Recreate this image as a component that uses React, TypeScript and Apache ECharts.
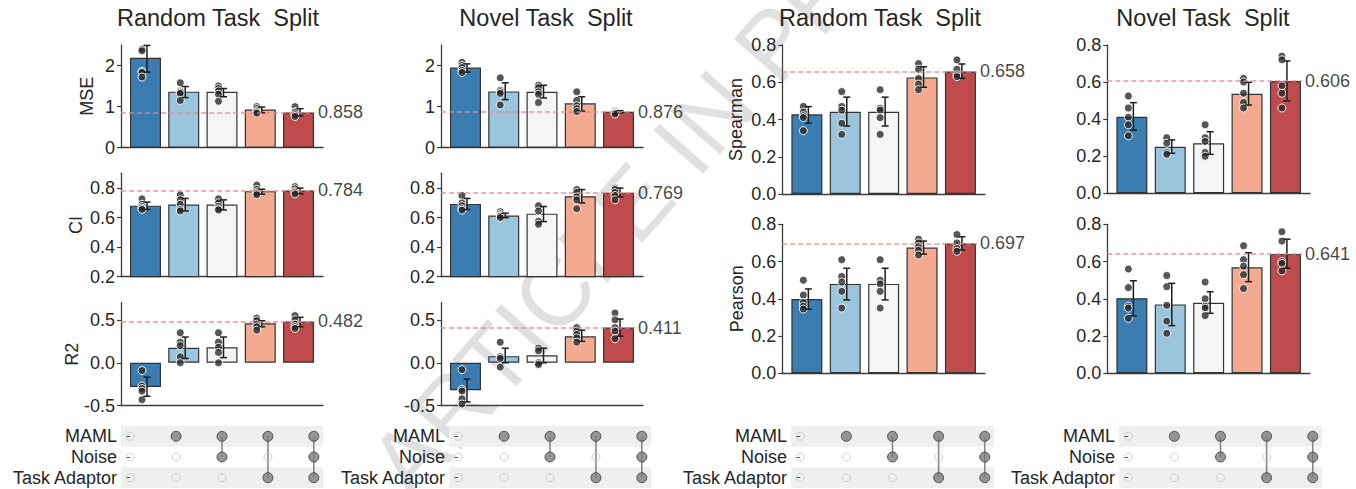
import React, { useEffect, useRef } from "react";
import * as echarts from "echarts";

// ---------- data ----------
const methods = ["Base", "MAML", "MAML+Noise", "MAML+TaskAdaptor", "MAML+Noise+TaskAdaptor"];
const barColors = ["#3b7db1", "#9bc5dc", "#f5f5f5", "#f3aa91", "#bf4b4c"];
const upsetRows = ["MAML", "Noise", "Task Adaptor"];
const useMAML = [0, 1, 1, 1, 1];
const useNoise = [0, 0, 1, 0, 1];
const useAdaptor = [0, 0, 0, 1, 1];
const panelTitles = ["Random Task  Split", "Novel Task  Split", "Random Task  Split", "Novel Task  Split"];

// Random task split - MSE
const mseRandom = [2.19, 1.365, 1.36, 0.93, 0.858];
const mseRandomLo = [1.84, 1.22, 1.24, 0.85, 0.77];
const mseRandomHi = [2.49, 1.49, 1.44, 0.99, 0.95];
const mseRandomDots = [[2.4, 2.36, 1.86, 1.83, 1.72], [1.58, 1.38, 1.35, 1.32, 1.15], [1.5, 1.44, 1.38, 1.3, 1.13], [1.0, 0.95, 0.9, 0.87, 0.84], [1.0, 0.88, 0.85, 0.8, 0.76]];
// Random task split - CI
const ciRandom = [0.681, 0.688, 0.688, 0.779, 0.784];
const ciRandomLo = [0.655, 0.645, 0.652, 0.759, 0.761];
const ciRandomHi = [0.705, 0.73, 0.72, 0.792, 0.8];
const ciRandomDots = [[0.727, 0.69, 0.675, 0.664, 0.655], [0.754, 0.72, 0.69, 0.655, 0.645], [0.727, 0.7, 0.675, 0.66, 0.652], [0.82, 0.79, 0.775, 0.765, 0.755], [0.81, 0.795, 0.78, 0.77, 0.76]];
// Random task split - R2
const r2Random = [-0.282, 0.174, 0.18, 0.46, 0.482];
const r2RandomLo = [-0.39, 0.05, 0.06, 0.42, 0.42];
const r2RandomHi = [-0.167, 0.3, 0.3, 0.49, 0.53];
const r2RandomDots = [[-0.09, -0.27, -0.3, -0.33, -0.43], [0.35, 0.24, 0.2, 0.07, 0.0], [0.35, 0.24, 0.18, 0.12, 0.0], [0.52, 0.49, 0.45, 0.42, 0.38], [0.55, 0.5, 0.45, 0.42, 0.4]];
// Novel task split - MSE
const mseNovel = [1.95, 1.37, 1.36, 1.08, 0.876];
const mseNovelLo = [1.84, 1.17, 1.21, 0.89, 0.85];
const mseNovelHi = [2.04, 1.58, 1.52, 1.24, 0.9];
const mseNovelDots = [[2.08, 2.0, 1.95, 1.88, 1.83], [1.7, 1.4, 1.36, 1.32, 1.04], [1.52, 1.46, 1.36, 1.3, 1.1], [1.36, 1.15, 1.02, 0.95, 0.88], [0.9, 0.88, 0.86, 0.84, 0.82]];
// Novel task split - CI
const ciNovel = [0.693, 0.614, 0.627, 0.745, 0.769];
const ciNovelLo = [0.655, 0.6, 0.573, 0.7, 0.74];
const ciNovelHi = [0.73, 0.63, 0.675, 0.79, 0.8];
const ciNovelDots = [[0.75, 0.7, 0.68, 0.66, 0.65], [0.64, 0.625, 0.615, 0.61, 0.6], [0.68, 0.645, 0.575, 0.555], [0.79, 0.77, 0.74, 0.72, 0.66], [0.8, 0.79, 0.77, 0.75, 0.72]];
// Novel task split - R2
const r2Novel = [-0.32, 0.077, 0.087, 0.31, 0.411];
const r2NovelLo = [-0.456, 0.0, 0.0, 0.25, 0.31];
const r2NovelHi = [-0.19, 0.17, 0.17, 0.38, 0.51];
const r2NovelDots = [[-0.08, -0.31, -0.33, -0.42, -0.48], [0.24, 0.07, 0.05, -0.05], [0.17, 0.14, 0.0, -0.02], [0.41, 0.37, 0.33, 0.29, 0.24], [0.58, 0.5, 0.41, 0.37, 0.28]];
// Random task split - Spearman
const spRandom = [0.428, 0.442, 0.442, 0.626, 0.658];
const spRandomLo = [0.38, 0.365, 0.365, 0.573, 0.621];
const spRandomHi = [0.469, 0.52, 0.52, 0.683, 0.698];
const spRandomDots = [[0.47, 0.44, 0.42, 0.41, 0.34], [0.55, 0.47, 0.45, 0.38, 0.32], [0.56, 0.46, 0.45, 0.41, 0.32], [0.7, 0.67, 0.62, 0.59, 0.56], [0.72, 0.67, 0.64, 0.63]];
// Random task split - Pearson
const peRandom = [0.399, 0.48, 0.48, 0.675, 0.697];
const peRandomLo = [0.344, 0.394, 0.394, 0.64, 0.662];
const peRandomHi = [0.453, 0.564, 0.564, 0.71, 0.733];
const peRandomDots = [[0.5, 0.42, 0.38, 0.36, 0.345], [0.61, 0.52, 0.49, 0.44, 0.35], [0.61, 0.5, 0.48, 0.44, 0.35], [0.72, 0.7, 0.68, 0.66, 0.635], [0.745, 0.7, 0.67, 0.655]];
// Novel task split - Spearman
const spNovel = [0.413, 0.251, 0.27, 0.537, 0.606];
const spNovelLo = [0.341, 0.216, 0.21, 0.476, 0.498];
const spNovelHi = [0.489, 0.288, 0.332, 0.599, 0.714];
const spNovelDots = [[0.525, 0.46, 0.41, 0.37, 0.31], [0.3, 0.27, 0.22, 0.21], [0.37, 0.3, 0.28, 0.22, 0.2], [0.62, 0.6, 0.54, 0.49, 0.46], [0.74, 0.72, 0.58, 0.54, 0.46]];
// Novel task split - Pearson
const peNovel = [0.403, 0.37, 0.379, 0.569, 0.641];
const peNovelLo = [0.308, 0.256, 0.322, 0.492, 0.564];
const peNovelHi = [0.497, 0.483, 0.438, 0.647, 0.72];
const peNovelDots = [[0.56, 0.46, 0.36, 0.35, 0.295], [0.525, 0.465, 0.365, 0.28, 0.215], [0.49, 0.4, 0.36, 0.35, 0.31], [0.685, 0.61, 0.575, 0.53, 0.455], [0.76, 0.71, 0.6, 0.59, 0.55]];

// reference labels (best model)
const refLabels = ["0.858", "0.784", "0.482", "0.876", "0.769", "0.411", "0.658", "0.697", "0.606", "0.641"];

// tick values
const mseTicks = [0, 1, 2];
const ciTicks = [0.2, 0.4, 0.6, 0.8];
const r2Ticks = [-0.5, 0, 0.5];
const corrTicks = [0, 0.2, 0.4, 0.6, 0.8];

// ---------- style / layout ----------
const FONT = '"Liberation Sans", Arial, Helvetica, sans-serif';
const TXT = "#262626";
const AX = "#3c3c3c";

const panels = [
  { v: mseRandom, lo: mseRandomLo, hi: mseRandomHi, dots: mseRandomDots, left: 121, top: 45, w: 202, h: 102.7, min: 0, max: 2.5, ticks: mseTicks, dec: 0, name: "MSE", nameX: 87 },
  { v: ciRandom, lo: ciRandomLo, hi: ciRandomHi, dots: ciRandomDots, left: 121, top: 173.3, w: 202, h: 103.4, min: 0.2, max: 0.9, ticks: ciTicks, dec: 1, name: "CI", nameX: 76 },
  { v: r2Random, lo: r2RandomLo, hi: r2RandomHi, dots: r2RandomDots, left: 121, top: 302.7, w: 202, h: 103, min: -0.5, max: 0.7, ticks: r2Ticks, dec: 1, name: "R2", nameX: 72 },
  { v: mseNovel, lo: mseNovelLo, hi: mseNovelHi, dots: mseNovelDots, left: 441, top: 45, w: 202, h: 102.7, min: 0, max: 2.5, ticks: mseTicks, dec: 0, name: "", nameX: 0 },
  { v: ciNovel, lo: ciNovelLo, hi: ciNovelHi, dots: ciNovelDots, left: 441, top: 173.3, w: 202, h: 103.4, min: 0.2, max: 0.9, ticks: ciTicks, dec: 1, name: "", nameX: 0 },
  { v: r2Novel, lo: r2NovelLo, hi: r2NovelHi, dots: r2NovelDots, left: 441, top: 302.7, w: 202, h: 103, min: -0.5, max: 0.7, ticks: r2Ticks, dec: 1, name: "", nameX: 0 },
  { v: spRandom, lo: spRandomLo, hi: spRandomHi, dots: spRandomDots, left: 782.3, top: 45, w: 202.7, h: 149, min: 0, max: 0.8, ticks: corrTicks, dec: 1, name: "Spearman", nameX: 736 },
  { v: peRandom, lo: peRandomLo, hi: peRandomHi, dots: peRandomDots, left: 782.3, top: 224.3, w: 202.7, h: 149, min: 0, max: 0.8, ticks: corrTicks, dec: 1, name: "Pearson", nameX: 737 },
  { v: spNovel, lo: spNovelLo, hi: spNovelHi, dots: spNovelDots, left: 1107.3, top: 45, w: 202.7, h: 148.3, min: 0, max: 0.8, ticks: corrTicks, dec: 1, name: "", nameX: 0 },
  { v: peNovel, lo: peNovelLo, hi: peNovelHi, dots: peNovelDots, left: 1107.3, top: 224.3, w: 202.7, h: 149, min: 0, max: 0.8, ticks: corrTicks, dec: 1, name: "", nameX: 0 },
];

const upsetLayouts = [
  { left: 121, top: 426, w: 202, h: 62 },
  { left: 449, top: 426, w: 202, h: 62 },
  { left: 791, top: 426, w: 203, h: 62 },
  { left: 1119, top: 426, w: 203, h: 62 },
];

const titleCenters = [218, 546, 880, 1203];

function buildOption() {
  const grid: any[] = [];
  const xAxis: any[] = [];
  const yAxis: any[] = [];
  const series: any[] = [];
  const graphic: any[] = [];

  panels.forEach((P, k) => {
    grid.push({ left: P.left, top: P.top, width: P.w, height: P.h });
    xAxis.push({
      gridIndex: k, type: "value", min: -0.64, max: 4.64,
      axisLine: { show: true, onZero: false, lineStyle: { color: AX, width: 1.3 } },
      axisTick: { show: false }, axisLabel: { show: false }, splitLine: { show: false },
    });
    yAxis.push({
      gridIndex: k, type: "value", min: P.min, max: P.max,
      axisLine: { show: true, onZero: false, lineStyle: { color: AX, width: 1.3 } },
      axisTick: { show: true, length: 4, lineStyle: { color: AX, width: 1.2 }, customValues: P.ticks },
      axisLabel: {
        customValues: P.ticks, formatter: (val: number) => Number(val).toFixed(P.dec),
        fontSize: 18, color: TXT, margin: 6, fontFamily: FONT,
      },
      splitLine: { show: false },
    });
    const last = P.v[P.v.length - 1];
    series.push({
      type: "bar", xAxisIndex: k, yAxisIndex: k, barWidth: 31, z: 2,
      data: P.v.map((val, i) => ({
        value: [i, val],
        itemStyle: { color: barColors[i], borderColor: "#333", borderWidth: 1.2 },
      })),
      markLine: {
        silent: true, symbol: ["none", "none"], z: 6,
        lineStyle: { color: "#f08585", type: [5, 3], width: 1.5, opacity: 0.85 },
        label: { show: true, position: "end", formatter: refLabels[k], fontSize: 18, color: TXT, fontFamily: FONT, distance: 3 },
        emphasis: { disabled: true },
        data: [[{ coord: [-0.64, last] }, { coord: [4.43, last] }]],
      },
    });
    const dotData: number[][] = [];
    P.dots.forEach((arr, i) => arr.forEach((d) => dotData.push([i, d])));
    series.push({
      type: "scatter", xAxisIndex: k, yAxisIndex: k, z: 3,
      symbolSize: 8, symbolOffset: [-3.5, 0],
      itemStyle: { color: "rgba(40,40,40,0.78)", borderColor: "#ffffff", borderWidth: 0.9, opacity: 1 },
      data: dotData,
    });
    series.push({
      type: "custom", xAxisIndex: k, yAxisIndex: k, z: 4,
      encode: { x: 0, y: [1, 2] },
      renderItem: (params: any, api: any) => {
        const x = api.value(0);
        const p1 = api.coord([x, api.value(1)]);
        const p2 = api.coord([x, api.value(2)]);
        const cx = p1[0] + 1.5;
        const st = { stroke: "#1e1e1e", lineWidth: 1.5 };
        return {
          type: "group",
          children: [
            { type: "line", shape: { x1: cx, y1: p1[1], x2: cx, y2: p2[1] }, style: st },
            { type: "line", shape: { x1: cx - 3.5, y1: p1[1], x2: cx + 3.5, y2: p1[1] }, style: st },
            { type: "line", shape: { x1: cx - 3.5, y1: p2[1], x2: cx + 3.5, y2: p2[1] }, style: st },
          ],
        };
      },
      data: P.lo.map((l, i) => [i, l, P.hi[i]]),
    });
    if (P.name) {
      graphic.push({
        type: "text", x: P.nameX, y: P.top + P.h / 2, rotation: Math.PI / 2, z: 10,
        style: { text: P.name, fontSize: 18, fill: TXT, fontFamily: FONT, align: "center", verticalAlign: "middle" },
      });
    }
  });

  const membership = [useMAML, useNoise, useAdaptor];
  upsetLayouts.forEach((U, j) => {
    const k = panels.length + j;
    grid.push({ left: U.left, top: U.top, width: U.w, height: U.h });
    xAxis.push({
      gridIndex: k, type: "value", min: -0.2, max: 4.2,
      axisLine: { show: false }, axisTick: { show: false }, axisLabel: { show: false }, splitLine: { show: false },
    });
    yAxis.push({
      gridIndex: k, type: "category", data: upsetRows, inverse: true,
      axisLine: { show: false },
      axisTick: { show: true, interval: 0, length: 4, alignWithLabel: true, lineStyle: { color: "#555", width: 1 } },
      axisLabel: { interval: 0, fontSize: 18, color: TXT, margin: 4, fontFamily: FONT, hideOverlap: false },
      splitLine: { show: false, interval: 0 },
      splitArea: { show: true, interval: 0, areaStyle: { color: ["#efefef", "rgba(255,255,255,0)"] } },
    });
    const filled: number[][] = [];
    const empty: number[][] = [];
    const links: number[][] = [];
    methods.forEach((_, c) => {
      const rows: number[] = [];
      membership.forEach((m, r) => {
        if (m[c]) { filled.push([c, r]); rows.push(r); } else empty.push([c, r]);
      });
      if (rows.length > 1) links.push([c, Math.min(...rows), Math.max(...rows)]);
    });
    series.push({
      type: "custom", xAxisIndex: k, yAxisIndex: k, z: 2,
      encode: { x: 0, y: [1, 2] },
      renderItem: (params: any, api: any) => {
        const p1 = api.coord([api.value(0), api.value(1)]);
        const p2 = api.coord([api.value(0), api.value(2)]);
        return { type: "line", shape: { x1: p1[0], y1: p1[1], x2: p2[0], y2: p2[1] }, style: { stroke: "#8a8a8a", lineWidth: 1.6 } };
      },
      data: links,
    });
    series.push({
      type: "scatter", xAxisIndex: k, yAxisIndex: k, z: 3, symbolSize: 10,
      itemStyle: { color: "#7d7d7d", borderColor: "#3a3a3a", borderWidth: 1 },
      data: filled,
    });
    series.push({
      type: "scatter", xAxisIndex: k, yAxisIndex: k, z: 3, symbolSize: 8,
      itemStyle: { color: "rgba(255,255,255,0)", borderColor: "#c4c4c4", borderWidth: 1 },
      data: empty,
    });
  });

  panelTitles.forEach((t, i) => {
    graphic.push({
      type: "text", x: titleCenters[i], y: 18, z: 10,
      style: { text: t, fontSize: 23.5, fill: TXT, fontFamily: FONT, align: "center", verticalAlign: "middle" },
    });
  });

  graphic.push({
    type: "text", x: 352, y: 450, rotation: 0.85, z: -1, silent: true,
    style: { text: "ARTICLE IN PRESS", fontSize: 96, fill: "rgba(0,0,0,0.12)", fontFamily: FONT, align: "left", verticalAlign: "alphabetic" },
  });

  return {
    animation: false,
    backgroundColor: "#ffffff",
    textStyle: { fontFamily: FONT },
    grid, xAxis, yAxis, series, graphic,
  };
}

export default function App() {
  const ref = useRef<HTMLDivElement>(null);
  useEffect(() => {
    if (!ref.current) return;
    const chart = echarts.init(ref.current, undefined, { renderer: "svg" });
    chart.setOption(buildOption() as any);
    return () => chart.dispose();
  }, []);
  return <div ref={ref} style={{ position: "absolute", left: 0, top: 0, width: 1356, height: 489 }} />;
}
